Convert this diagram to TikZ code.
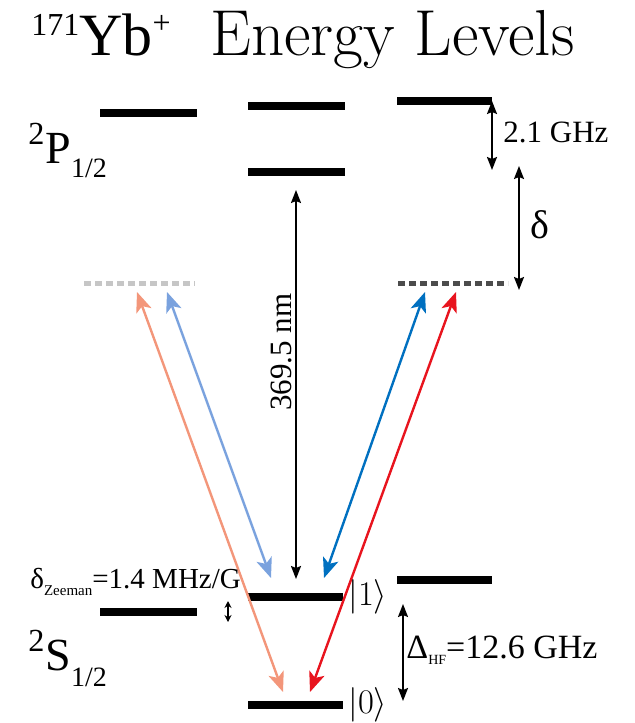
\documentclass[tikz,border=0pt]{standalone}
\usepackage{tkz-euclide}
\usepackage{amsmath}
\usepackage{fontspec}
\newfontfamily\timesfont{Liberation Serif}
\usetikzlibrary{arrows.meta}
\definecolor{salmonarrow}{RGB}{243,150,122}
\definecolor{lightbluearrow}{RGB}{122,162,222}
\definecolor{bluearrow}{RGB}{0,112,192}
\definecolor{redarrow}{RGB}{232,20,30}
\tikzset{
  bar/.style={line width=4pt,line cap=butt},
  virtlevel/.style={line width=2.5pt,line cap=butt,dash pattern=on 3.5pt off 2pt},
  laser/.style={line width=1.2pt,line cap=butt,{Stealth[length=10pt,width=8pt,inset=2.5pt]}-{Stealth[length=10pt,width=8pt,inset=2.5pt]}},
  splitarrow/.style={line width=0.9pt,line cap=butt,{Stealth[length=6.5pt,width=5pt,inset=1pt]}-{Stealth[length=6.5pt,width=5pt,inset=1pt]}},
  lbl/.style={inner sep=0pt,font=\timesfont\fontsize{15.5}{18}\selectfont},
}

\begin{document}
\begin{tikzpicture}[x=0.5pt,y=-0.5pt]
            \useasboundingbox (0,0) rectangle (635,723);

            % P_1/2 manifold
            \tkzDefPoint(100,113){Pl_a}
            \tkzDefPoint(197,113){Pl_b}
            \tkzDefPoint(248,106){Pu_a}
            \tkzDefPoint(345,106){Pu_b}
            \tkzDefPoint(248,172){Pd_a}
            \tkzDefPoint(345,172){Pd_b}
            \tkzDefPoint(397,101){Pr_a}
            \tkzDefPoint(492,101){Pr_b}
            \tkzDrawSegments[bar](Pl_a,Pl_b Pu_a,Pu_b Pd_a,Pd_b Pr_a,Pr_b)

            % virtual levels
            \tkzDefPoint(84,283){Vl_a}
            \tkzDefPoint(195,283){Vl_b}
            \tkzDefPoint(398,283){Vr_a}
            \tkzDefPoint(508,283){Vr_b}
            \tkzDrawSegment[virtlevel,gray!45](Vl_a,Vl_b)
            \tkzDrawSegment[virtlevel,black!70](Vr_a,Vr_b)

            % S_1/2 manifold
            \tkzDefPoint(100,612){Sl_a}
            \tkzDefPoint(197,612){Sl_b}
            \tkzDefPoint(248,597){One_a}
            \tkzDefPoint(343,597){One_b}
            \tkzDefPoint(397,580){Sr_a}
            \tkzDefPoint(492,580){Sr_b}
            \tkzDefPoint(248,705){Zero_a}
            \tkzDefPoint(343,705){Zero_b}
            \tkzDrawSegments[bar](Sl_a,Sl_b One_a,One_b Sr_a,Sr_b Zero_a,Zero_b)

            % splittings
            \tkzDefPoint(492,101){hf_t}
            \tkzDefPoint(492,170){hf_b}
            \tkzDrawSegment[splitarrow](hf_t,hf_b)
            \tkzDefPoint(519,166){det_t}
            \tkzDefPoint(519,290){det_b}
            \tkzDrawSegment[splitarrow](det_t,det_b)
            \tkzDefPoint(296,190){uv_t}
            \tkzDefPoint(296,579){uv_b}
            \tkzDrawSegment[splitarrow](uv_t,uv_b)
            \tkzDefPoint(403,604){shf_t}
            \tkzDefPoint(403,701){shf_b}
            \tkzDrawSegment[splitarrow](shf_t,shf_b)
            \tkzDefPoint(228,601){zee_t}
            \tkzDefPoint(228,622){zee_b}
            \tkzDrawSegment[line width=0.7pt,{Stealth[length=3.5pt,width=3.5pt]}-{Stealth[length=3.5pt,width=3.5pt]}](zee_t,zee_b)

            % Raman beams
            \tkzDefPoint(137,292){la_t}
            \tkzDefPoint(283,692){la_b}
            \tkzDrawSegment[laser,salmonarrow](la_t,la_b)
            \tkzDefPoint(167,292){lb_t}
            \tkzDefPoint(271,578){lb_b}
            \tkzDrawSegment[laser,lightbluearrow](lb_t,lb_b)
            \tkzDefPoint(425,292){ra_t}
            \tkzDefPoint(324,578){ra_b}
            \tkzDrawSegment[laser,bluearrow](ra_t,ra_b)
            \tkzDefPoint(456,292){rb_t}
            \tkzDefPoint(310,692){rb_b}
            \tkzDrawSegment[laser,redarrow](rb_t,rb_b)

            % labels
            \node[anchor=base west,inner sep=0pt,font=\timesfont\fontsize{30}{34}\selectfont] (ion) at (31,55) {\raisebox{10pt}{\fontsize{16}{18}\selectfont 171}Yb\raisebox{11pt}{\fontsize{16}{18}\selectfont +}};
            \node[anchor=base west,inner sep=0pt,font=\fontsize{32.5}{38}\selectfont] (title) at (210,55) {Energy Levels};
            \node[anchor=base west,inner sep=0pt,font=\timesfont\fontsize{23}{26}\selectfont] (pterm) at (28,163) {\textsuperscript{2}P\raisebox{-7pt}{\fontsize{14}{16}\selectfont 1/2}};
            \node[anchor=base west,inner sep=0pt,font=\timesfont\fontsize{23}{26}\selectfont] (sterm) at (28,670) {\textsuperscript{2}S\raisebox{-8pt}{\fontsize{14}{16}\selectfont 1/2}};
            \node[lbl,anchor=base west] (hflab) at (503,142) {2.1 GHz};
            \node[lbl,anchor=west,font=\timesfont\fontsize{20}{24}\selectfont] (detlab) at (530,225) {δ};
            \node[lbl,rotate=90] (uvlab) at (281,352) {369.5 nm};
            \node[lbl,anchor=base west,font=\timesfont\fontsize{14.5}{17}\selectfont] (zeelab) at (30,588) {δ\raisebox{-3.5pt}{\fontsize{7.5}{8}\selectfont Zeeman}=1.4 MHz/G};
            \node[lbl,anchor=west,font=\timesfont\fontsize{17}{20}\selectfont] (shflab) at (406,650) {Δ\raisebox{-3pt}{\fontsize{7}{8}\selectfont HF}=12.6 GHz};
            \node[lbl,anchor=west,font=\fontsize{19}{22}\selectfont] (onelab) at (348,597) {$|1\rangle$};
            \node[lbl,anchor=west,font=\fontsize{19}{22}\selectfont] (zerolab) at (348,705) {$|0\rangle$};

        \end{tikzpicture}
\end{document}
